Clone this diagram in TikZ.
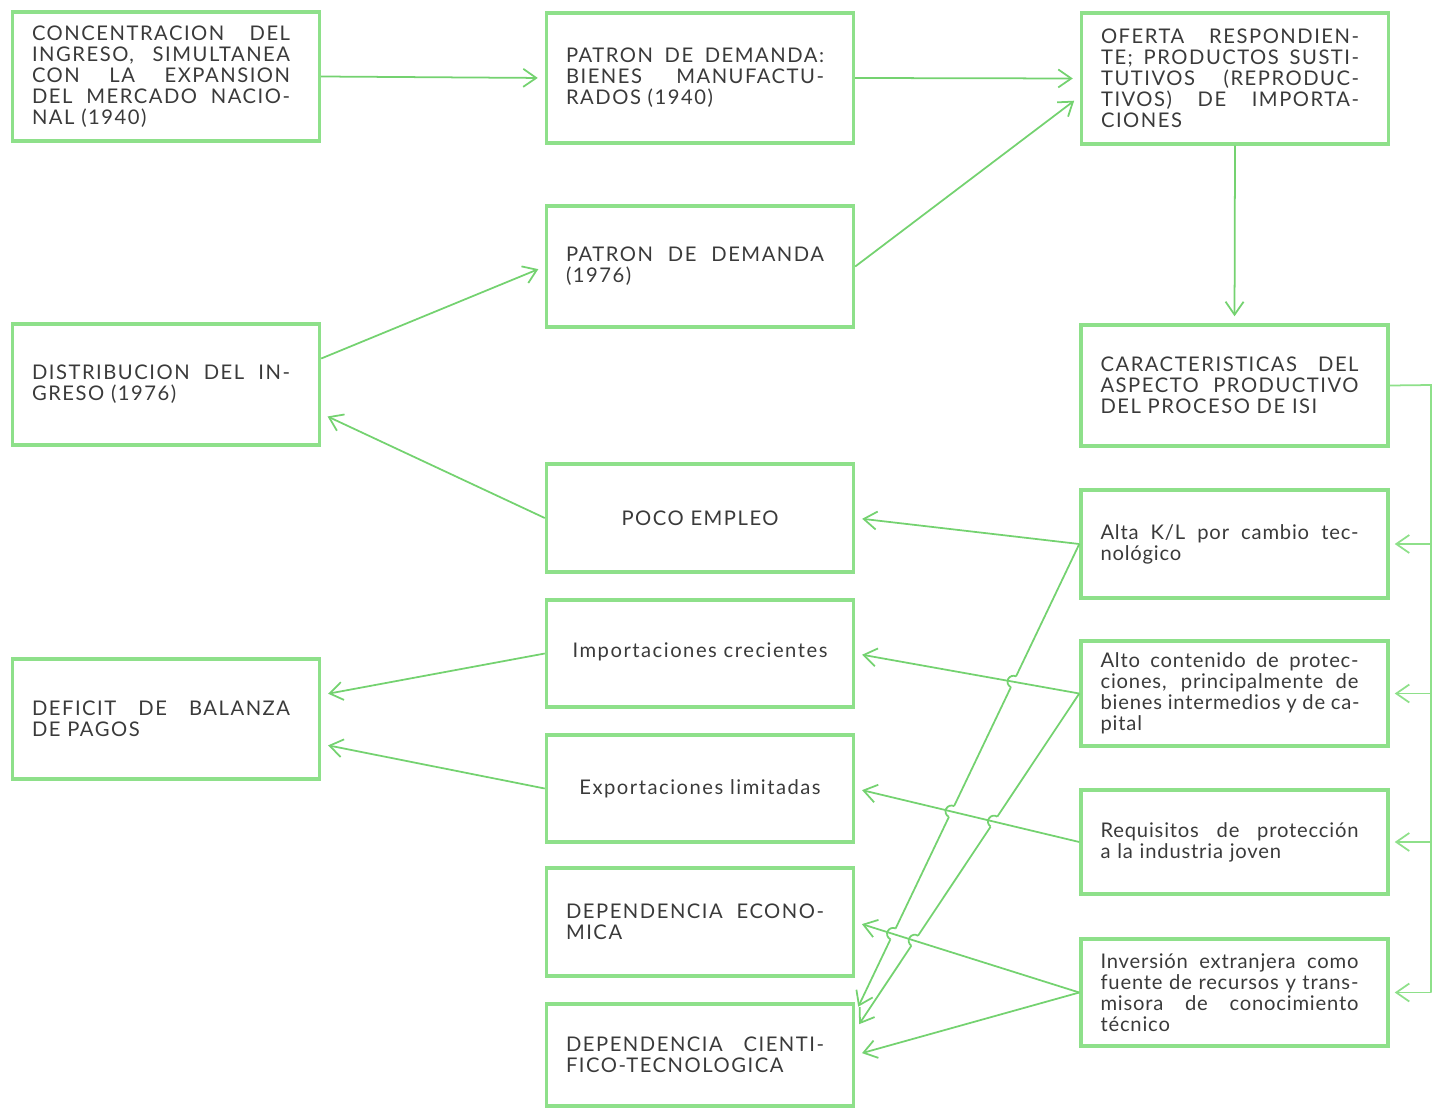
\documentclass[tikz,border=0pt]{standalone}
\usepackage{fontspec}
\usepackage{tikz}
\usetikzlibrary{arrows.meta,intersections}
\newfontfamily\cajafont[LetterSpace=7.5]{Lato}
\newfontfamily\minfont[LetterSpace=4]{Lato}
\definecolor{verde}{HTML}{8EE08A}
\definecolor{verdeosc}{HTML}{74D270}
\definecolor{tinta}{HTML}{3A3A3A}
% one justified line of box text
\newcommand{\fila}[1]{{\spaceskip=0.28em plus 1fil\xspaceskip=0.28em plus 1fil\makebox[5.16cm][s]{#1}}}

\begin{document}
\begin{tikzpicture}[x=0.02cm,y=-0.02cm,
    caja/.style={rectangle,draw=verde,line width=2pt,minimum width=6.14cm,text width=5.36cm,inner xsep=0pt,
      align=left,text=tinta,font={\cajafont\fontsize{11.5}{12}\selectfont}},
    minus/.style={font={\minfont\fontsize{11.5}{12}\selectfont}},
    flecha/.style={draw=verdeosc,line width=1pt,-{Straight Barb[length=2.6mm,width=3.6mm]},shorten >=0.14cm},
    linea/.style={draw=verdeosc,line width=1pt}]
  \useasboundingbox (0,0) rectangle (1439,1108);
  % left column
  \node[caja,minimum height=2.58cm] (conc) at (166,76.5) {\fila{CONCENTRACION DEL}\\\fila{INGRESO, SIMULTANEA}\\\fila{CON LA EXPANSION}\\\fila{DEL MERCADO NACIO-}\\NAL (1940)};
  \node[caja,minimum height=2.42cm] (distr) at (166,384.5) {\fila{DISTRIBUCION DEL IN-}\\GRESO (1976)};
  \node[caja,minimum height=2.4cm] (defic) at (166,719) {\fila{DEFICIT DE BALANZA}\\DE PAGOS};
  % middle column
  \node[caja,minimum height=2.6cm] (pat40) at (700,78) {\fila{PATRON DE DEMANDA:}\\\fila{BIENES MANUFACTU-}\\RADOS (1940)};
  \node[caja,minimum height=2.42cm] (pat76) at (700,266.5) {\fila{PATRON DE DEMANDA}\\(1976)};
  \node[caja,minimum height=2.16cm,align=center] (poco) at (700,518) {POCO EMPLEO};
  \node[caja,minimum height=2.14cm,align=center] (imp) at (700,653.5) {\raisebox{0.14cm}{Importaciones crecientes}};
  \node[caja,minimum height=2.14cm,align=center] (expo) at (700,788.5) {Exportaciones limitadas};
  \node[caja,minimum height=2.16cm] (econ) at (700,922) {\fila{DEPENDENCIA ECONO-}\\MICA};
  \node[caja,minimum height=2.04cm] (cien) at (700,1055) {\fila{DEPENDENCIA CIENTI-}\\FICO-TECNOLOGICA};
  % right column
  \node[caja,minimum height=2.62cm] (ofer) at (1235,78.5) {\fila{OFERTA RESPONDIEN-}\\\fila{TE; PRODUCTOS SUSTI-}\\\fila{TUTIVOS (REPRODUC-}\\\fila{TIVOS) DE IMPORTA-}\\CIONES};
  \node[caja,minimum height=2.42cm] (carac) at (1234.5,385.5) {\fila{CARACTERISTICAS DEL}\\\fila{ASPECTO PRODUCTIVO}\\DEL PROCESO DE ISI};
  \node[caja,minus,minimum height=2.16cm] (kl) at (1234.5,544) {\fila{Alta K/L por cambio tec-}\\nológico};
  \node[caja,minus,minimum height=2.1cm] (alto) at (1234.5,693.5) {\fila{Alto contenido de protec-}\\\fila{ciones, principalmente de}\\\fila{bienes intermedios y de ca-}\\pital};
  \node[caja,minus,minimum height=2.08cm] (req) at (1234.5,842) {\fila{Requisitos de protección}\\a la industria joven};
  \node[caja,minus,minimum height=2.14cm] (inv) at (1234.5,992.5) {\fila{Inversión extranjera como}\\\fila{fuente de recursos y trans-}\\\fila{misora de conocimiento}\\técnico};
  \coordinate (bus) at (1431,385);

  \path
    (conc.east) edge[flecha] (pat40.west)
    (pat40.east) edge[flecha] (ofer.west)
    (pat76.east) edge[flecha] ([yshift=-0.36cm]ofer.west)
    (ofer.south) edge[flecha] (carac.north)
    ([yshift=0.52cm]distr.east) edge[flecha] (pat76.west)
    (poco.west) edge[flecha] ([yshift=-0.58cm]distr.east)
    (imp.west) edge[flecha] ([yshift=0.48cm]defic.east)
    (expo.west) edge[flecha] ([yshift=-0.5cm]defic.east)
    (kl.west) edge[flecha] (poco.east)
    (inv.west) edge[flecha] (cien.east);

  % long diagonals, with jumps where they cross
  \draw[flecha,name path=dkl] (kl.west) -- ([yshift=0.84cm]cien.east);
  \draw[flecha,name path=dalto] (alto.west) -- ([yshift=0.5cm]cien.east);
  \path[name path=aimp] (alto.west) -- (imp.east);
  \path[name path=rexp] (req.west) -- (expo.east);
  \path[name path=iecon] (inv.west) -- (econ.east);
  \path[name intersections={of=dkl and aimp,by=h1}];
  \path[name intersections={of=dkl and rexp,by=h2}];
  \path[name intersections={of=dkl and iecon,by=h3}];
  \path[name intersections={of=dalto and rexp,by=h4}];
  \path[name intersections={of=dalto and iecon,by=h5}];
  \fill[white] (h1) circle (0.12cm) (h2) circle (0.12cm) (h3) circle (0.12cm)
    (h4) circle (0.12cm) (h5) circle (0.12cm);
  \path
    (alto.west) edge[flecha] (imp.east)
    (req.west) edge[flecha] (expo.east)
    (inv.west) edge[flecha] (econ.east);
  \draw[linea] ([shift={(64.1:0.12cm)}]h1) arc[start angle=64.1, end angle=244.1, radius=0.12cm];
  \draw[linea] ([shift={(64.1:0.12cm)}]h2) arc[start angle=64.1, end angle=244.1, radius=0.12cm];
  \draw[linea] ([shift={(64.1:0.12cm)}]h3) arc[start angle=64.1, end angle=244.1, radius=0.12cm];
  \draw[linea] ([shift={(55.9:0.12cm)}]h4) arc[start angle=55.9, end angle=235.9, radius=0.12cm];
  \draw[linea] ([shift={(55.9:0.12cm)}]h5) arc[start angle=55.9, end angle=235.9, radius=0.12cm];

  % feedback bus on the right
  \draw[linea,draw=verde] (carac.east) -- (bus) -- (bus |- inv.east);
  \path
    (bus |- kl.east) edge[flecha,draw=verde,shorten >=0.1cm] (kl.east)
    (bus |- alto.east) edge[flecha,draw=verde,shorten >=0.1cm] (alto.east)
    (bus |- req.east) edge[flecha,draw=verde,shorten >=0.1cm] (req.east)
    (bus |- inv.east) edge[flecha,draw=verde,shorten >=0.1cm] (inv.east);
\end{tikzpicture}
\end{document}
